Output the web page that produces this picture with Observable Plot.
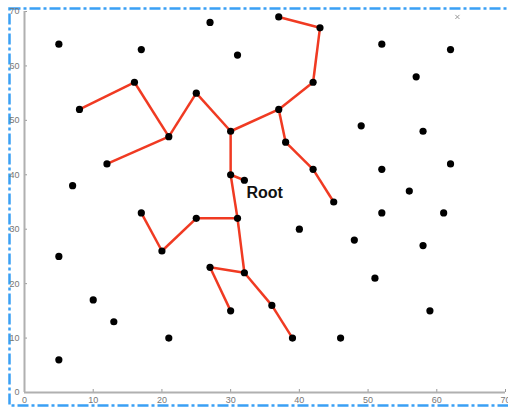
<!DOCTYPE html>
<html>
<head>
<meta charset="utf-8">
<script src="https://cdn.jsdelivr.net/npm/d3@7"></script>
<script src="https://cdn.jsdelivr.net/npm/@observablehq/plot@0.6"></script>
<style>
  html, body { margin: 0; padding: 0; background: #fff; }
  #chart svg { display: block; }
</style>
</head>
<body>
<div id="chart"></div>
<script>
// Node coordinates
const nodeX = [5,17,27,31,16,8,25,21,30,12,7,30,32,
               37,43,42,37,38,42,45,52,62,57,49,58,52,62,56,
               17,20,25,31,27,32,30,5,10,13,21,5,
               40,52,61,48,58,51,59,36,39,46];
const nodeY = [64,63,68,62,57,52,55,47,48,42,38,40,39,
               69,67,57,52,46,41,35,64,63,58,49,48,41,42,37,
               33,26,32,32,23,22,15,25,17,13,10,6,
               30,33,33,28,27,21,15,16,10,10];
// Tree edges as index pairs into the node arrays
const edges = [[5,4],[4,7],[9,7],[7,6],[6,8],[8,16],[16,15],[15,14],[14,13],
               [16,17],[17,18],[18,19],[8,11],[11,12],[11,31],[31,30],[30,29],
               [29,28],[31,33],[33,32],[32,34],[33,47],[47,48]];
// Annotation
const labelText = ["Root"];
const labelX = [32.3];
const labelY = [36.6];
// Small grey cross marker
const crossX = [63];
const crossY = [69];
// Ticks
const tickValues = [0,10,20,30,40,50,60,70];

const nodes = nodeX.map((x, i) => ({x, y: nodeY[i]}));
const links = edges.map(([a, b]) => ({x1: nodeX[a], y1: nodeY[a], x2: nodeX[b], y2: nodeY[b]}));

const chart = Plot.plot({
  width: 508,
  height: 409,
  marginLeft: 24,
  marginTop: 11,
  marginRight: 3,
  marginBottom: 17,
  style: {fontFamily: "Liberation Sans, Arial, sans-serif", background: "#fff"},
  x: {domain: [0, 70], ticks: tickValues},
  y: {domain: [0, 70], ticks: tickValues},
  marks: [
    Plot.frame({stroke: "#3aa0f5", strokeWidth: 2.5, strokeDasharray: "11,3,3,3",
      insetLeft: -15, insetTop: -3, insetBottom: -13, insetRight: -5}),
    Plot.axisX({ticks: tickValues, tickSize: -3, tickPadding: 7, fontSize: 9, color: "#777", stroke: "#999"}),
    Plot.axisY({ticks: tickValues, tickSize: -3, tickPadding: 8, fontSize: 9, color: "#777", stroke: "#999"}),
    Plot.ruleY([0], {stroke: "#b0b0b0", strokeWidth: 2}),
    Plot.ruleX([0], {stroke: "#b0b0b0", strokeWidth: 2}),
    Plot.link(links, {x1: "x1", y1: "y1", x2: "x2", y2: "y2", stroke: "#f03a22", strokeWidth: 2.5}),
    Plot.dot(nodes, {x: "x", y: "y", r: 3.6, fill: "#000"}),
    Plot.dot(crossX.map((x, i) => ({x, y: crossY[i]})), {x: "x", y: "y", symbol: "times", r: 2, stroke: "#999", strokeWidth: 1}),
    Plot.text(labelText.map((t, i) => ({t, x: labelX[i], y: labelY[i]})), {x: "x", y: "y", text: "t", textAnchor: "start", fontSize: 16, fontWeight: "bold", fill: "#111"})
  ]
});
document.getElementById("chart").append(chart);
</script>
</body>
</html>
